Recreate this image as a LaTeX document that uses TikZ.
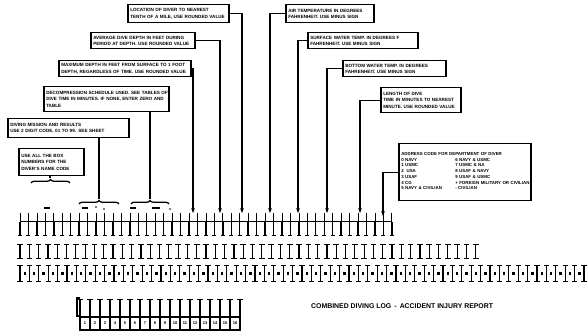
\documentclass[tikz,border=0pt]{standalone}
\usepackage{fontspec}
\setmainfont{Liberation Sans}
\usetikzlibrary{arrows.meta,decorations.pathreplacing,calc}
\newcommand{\oneline}[1]{\mbox{#1}}
\begin{document}
\begin{tikzpicture}[x=1pt,y=-1pt,
  infobox/.style={draw, line width=1.5pt, anchor=north west, inner xsep=2.5pt, inner ysep=1pt,
    align=left, font=\fontsize{4.6}{6.2}\selectfont\bfseries},
  conn/.style={line width=1.2pt, -{Stealth[length=5pt,width=3.8pt]}},
  plain/.style={line width=1.2pt},
  bracegroup/.style={line width=1.3pt, decorate, decoration={brace, amplitude=3.5pt}},
  cellline/.style={line width=1.2pt},
  serif/.style={line width=1pt},
  numtxt/.style={font=\fontsize{4}{4}\selectfont\bfseries, inner sep=0pt}
]
\useasboundingbox (0,0) rectangle (588,336);

% ---------- left boxes ----------
\node[infobox, text width=96pt, minimum height=18pt] (b1L) at (127,4)
  {\oneline{LOCATION OF DIVER TO NEAREST}\\\oneline{TENTH OF A MILE, USE ROUNDED VALUE}};
\node[infobox, text width=99pt, minimum height=16pt] (b2L) at (90,32)
  {\oneline{AVERAGE DIVE DEPTH IN FEET DURING}\\\oneline{PERIOD AT DEPTH. USE ROUNDED VALUE}};
\node[infobox, text width=127pt, minimum height=16pt] (b3L) at (58,60)
  {\oneline{MAXIMUM DEPTH IN FEET FROM SURFACE TO 1 FOOT}\\\oneline{DEPTH, REGARDLESS OF TIME. USE ROUNDED VALUE}};
\node[infobox, text width=120pt, minimum height=25pt] (b4L) at (43,86)
  {\oneline{DECOMPRESSION SCHEDULE USED. SEE TABLES OF}\\\oneline{DIVE TIME IN MINUTES. IF NONE, ENTER ZERO AND}\\\oneline{TABLE}};
\node[infobox, text width=116pt, minimum height=19pt] (b5L) at (7,118)
  {\oneline{DIVING MISSION AND RESULTS}\\\oneline{USE 2 DIGIT CODE, 01 TO 99. SEE SHEET}};
\node[infobox, text width=60pt, minimum height=27pt] (bsm) at (18,148)
  {\oneline{USE ALL THE BOX}\\\oneline{NUMBERS FOR THE}\\\oneline{DIVER'S NAME CODE}};

% ---------- right boxes ----------
\node[infobox, text width=83pt, minimum height=18pt] (b1R) at (285,4)
  {\oneline{AIR TEMPERATURE IN DEGREES}\\\oneline{FAHRENHEIT. USE MINUS SIGN}};
\node[infobox, text width=105pt, minimum height=16pt] (b2R) at (307,32)
  {\oneline{SURFACE WATER TEMP. IN DEGREES F}\\\oneline{FAHRENHEIT. USE MINUS SIGN}};
\node[infobox, text width=98pt, minimum height=16pt] (b3R) at (342,60)
  {\oneline{BOTTOM WATER TEMP. IN DEGREES}\\\oneline{FAHRENHEIT. USE MINUS SIGN}};
\node[infobox, text width=75pt, minimum height=25pt] (b4R) at (380,87)
  {\oneline{LENGTH OF DIVE}\\\oneline{TIME IN MINUTES TO NEAREST}\\\oneline{MINUTE. USE ROUNDED VALUE}};
\node[infobox, text width=127pt, minimum height=57pt, font=\fontsize{4.4}{6.9}\selectfont\bfseries] (bbig) at (398,143)
  {\oneline{ADDRESS CODE FOR DEPARTMENT OF DIVER}\\[-0.4pt]
   \begin{tabular}{@{}p{48pt}@{\hspace{6pt}}l@{}}
   0 NAVY & 6 NAVY \& USMC\\[-1.2pt]
   1 USMC & 7 USMC \& NA\\[-1.2pt]
   2 ~USA & 8 USAF \& NAVY\\[-1.2pt]
   3 USAF & 9 USAF \& USMC\\[-1.2pt]
   4 CG   & + FOREIGN MILITARY OR CIVILIAN\\[-1.2pt]
   5 NAVY \& CIVILIAN & - CIVILIAN
   \end{tabular}};

% ---------- connector end points ----------
\coordinate (t1L) at (242,213);
\coordinate (t2L) at (220,213);
\coordinate (t3L) at (193,213);
\coordinate (t4L) at (150,199);
\coordinate (t5L) at (99,199);
\coordinate (tsm) at (50,178);
\coordinate (t1R) at (270,213);
\coordinate (t2R) at (298,213);
\coordinate (t3R) at (327,213);
\coordinate (t4R) at (360,213);
\coordinate (tbig) at (383,216);

\draw[conn] (b1L.east) -| (t1L);
\draw[conn] (b2L.east) -| (t2L);
\draw[conn] (b3L.east) -| (t3L);
\draw[plain] (b4L.south -| t4L) -- (t4L);
\draw[plain] (b5L.south -| t5L) -- (t5L);
\draw[plain] (bsm.south -| tsm) -- (tsm);
\draw[conn] (b1R.west) -| (t1R);
\draw[conn] (b2R.west) -| (t2R);
\draw[conn] (b3R.west) -| (t3R);
\draw[conn] (b4R.west) -| (t4R);
\draw[conn] (bbig.west) -| (tbig);

% braces
\draw[bracegroup] (131,204) -- (169,204);
\draw[bracegroup] (79,204) -- (119,204);
\draw[bracegroup] (31,183) -- (70,183);

% small marks under braces
\draw[line width=1.2pt] (44,208) -- (50,208);
\draw[line width=1.2pt] (82,208) -- (88,208);
\fill (96,207) circle (0.9pt);
\fill (104,209) circle (0.9pt);
\draw[line width=1.2pt] (130,208) -- (136,208);
\draw[line width=1.2pt] (152,208) -- (160,208);
\fill (170,209) circle (0.9pt);

% ---------- row 1 ----------
\draw[line width=1pt] (20,222) -- (392,222);
\foreach \i in {0,...,44} {
  \draw[line width=0.7pt] ({20+8.45*\i},213) -- ({20+8.45*\i},222);
  \draw[line width=1.4pt] ({20+8.45*\i},222) -- ({20+8.45*\i},236);
  \draw[serif] ({20+8.45*\i-2},236) -- ({20+8.45*\i+2},236);
}

% ---------- row 2 ----------
\foreach \i in {0,...,49} {
  \draw[cellline] ({20+9.3*\i},245) -- ({20+9.3*\i},259);
  \draw[serif] ({20+9.3*\i-2.8},245) -- ({20+9.3*\i+2.8},245);
  \draw[serif] ({20+9.3*\i-2.8},259) -- ({20+9.3*\i+2.8},259);
}

% ---------- row 3 ----------
\foreach \i in {0,...,60} {
  \draw[cellline] ({20+9.4*\i},266) -- ({20+9.4*\i},281);
  \draw[serif] ({20+9.4*\i-2.6},266) -- ({20+9.4*\i+2.6},266);
  \draw[serif] ({20+9.4*\i-2.6},281) -- ({20+9.4*\i+2.6},281);
}
\foreach \i in {0,...,59} {
  \fill ({23.6+9.4*\i},271.8) rectangle ({25.9+9.4*\i},275.4);
}

% ---------- row 4 ----------
\draw[line width=1.2pt] (80,298) -- (77,298) -- (77,316) -- (80,316);
\foreach \i in {0,...,16} {
  \draw[cellline] ({80+10*\i},299) -- ({80+10*\i},316);
  \draw[serif] ({80+10*\i-2.6},299) -- ({80+10*\i+2.6},299);
}
\foreach \i in {1,...,16} {
  \draw[line width=1.1pt] ({70+10*\i},317) rectangle ({80+10*\i},330);
  \node[numtxt] (n\i) at ({75+10*\i},323.5) {\i};
}

% ---------- caption ----------
\node[font=\fontsize{6.9}{7}\selectfont\bfseries, anchor=west, inner sep=0pt] (cap) at (311,306)
  {COMBINED DIVING LOG \,-\, ACCIDENT INJURY REPORT};
\end{tikzpicture}
\end{document}
